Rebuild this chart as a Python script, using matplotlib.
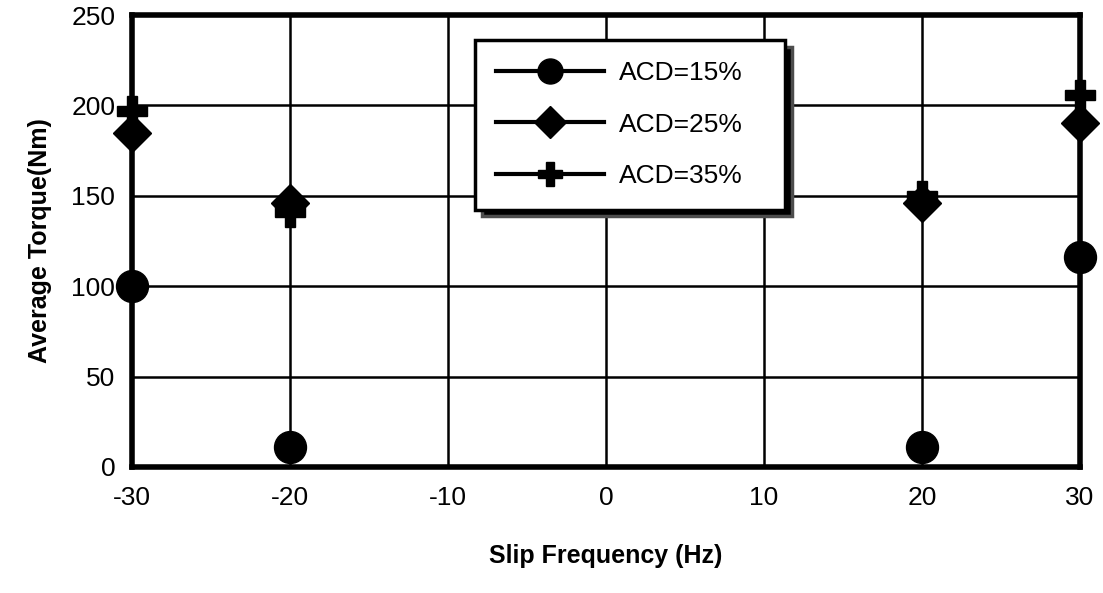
import matplotlib.pyplot as plt

# Average torque vs slip frequency for three ACD values
slip_freq = [-30, -20, 20, 30]
torque_acd15 = [100, 11, 11, 116]
torque_acd25 = [185, 146, 146, 190]
torque_acd35 = [197, 141, 150, 206]

x_ticks = [-30, -20, -10, 0, 10, 20, 30]
y_ticks = [0, 50, 100, 150, 200, 250]

plt.rcParams['font.family'] = ['Liberation Sans', 'DejaVu Sans']
plt.rcParams['axes.unicode_minus'] = False

fig = plt.figure(figsize=(11.03, 5.93), dpi=100)
ax = fig.add_axes([0.1197, 0.2125, 0.8593, 0.7622])

# markers only, with a line shown in the legend
ax.plot(slip_freq, torque_acd15, color='black', marker='o', markersize=23, linestyle='none', clip_on=False, zorder=5)
ax.plot(slip_freq, torque_acd25, color='black', marker='D', markersize=19, linestyle='none', clip_on=False, zorder=5)
ax.plot(slip_freq, torque_acd35, color='black', marker='P', markersize=22, linestyle='none', clip_on=False, zorder=5)

handles = [
    plt.Line2D([], [], color='black', lw=3, marker='o', markersize=18),
    plt.Line2D([], [], color='black', lw=3, marker='D', markersize=16),
    plt.Line2D([], [], color='black', lw=3, marker='P', markersize=17),
]
leg = ax.legend(handles, ['ACD=15%', 'ACD=25%', 'ACD=35%'], loc='upper left',
                bbox_to_anchor=(0.362, 0.01, 0.327, 0.935), mode='expand',
                fontsize=19, frameon=True,
                shadow={'facecolor': 'black', 'alpha': 1, 'ox': 5, 'oy': -5},
                fancybox=False, handlelength=4.1, borderpad=0.8, labelspacing=1.05,
                handletextpad=0.55, borderaxespad=0)
leg.get_frame().set_edgecolor('black')
leg.get_frame().set_linewidth(2.5)
leg.get_frame().set_alpha(1)

ax.set_xlim(-30, 30)
ax.set_ylim(0, 250)
ax.set_xticks(x_ticks)
ax.set_yticks(y_ticks)
ax.tick_params(length=0, labelsize=19)
ax.tick_params(axis='x', pad=14)
ax.tick_params(axis='y', pad=12)
ax.grid(True, color='black', linewidth=1.8)
ax.set_axisbelow(True)
for s in ax.spines.values():
    s.set_linewidth(4)

ax.set_xlabel('Slip Frequency (Hz)', fontsize=18, fontweight='bold', labelpad=24)
ax.set_ylabel('Average Torque(Nm)', fontsize=18, fontweight='bold', labelpad=14)

fig.savefig('out.png', dpi=100)
